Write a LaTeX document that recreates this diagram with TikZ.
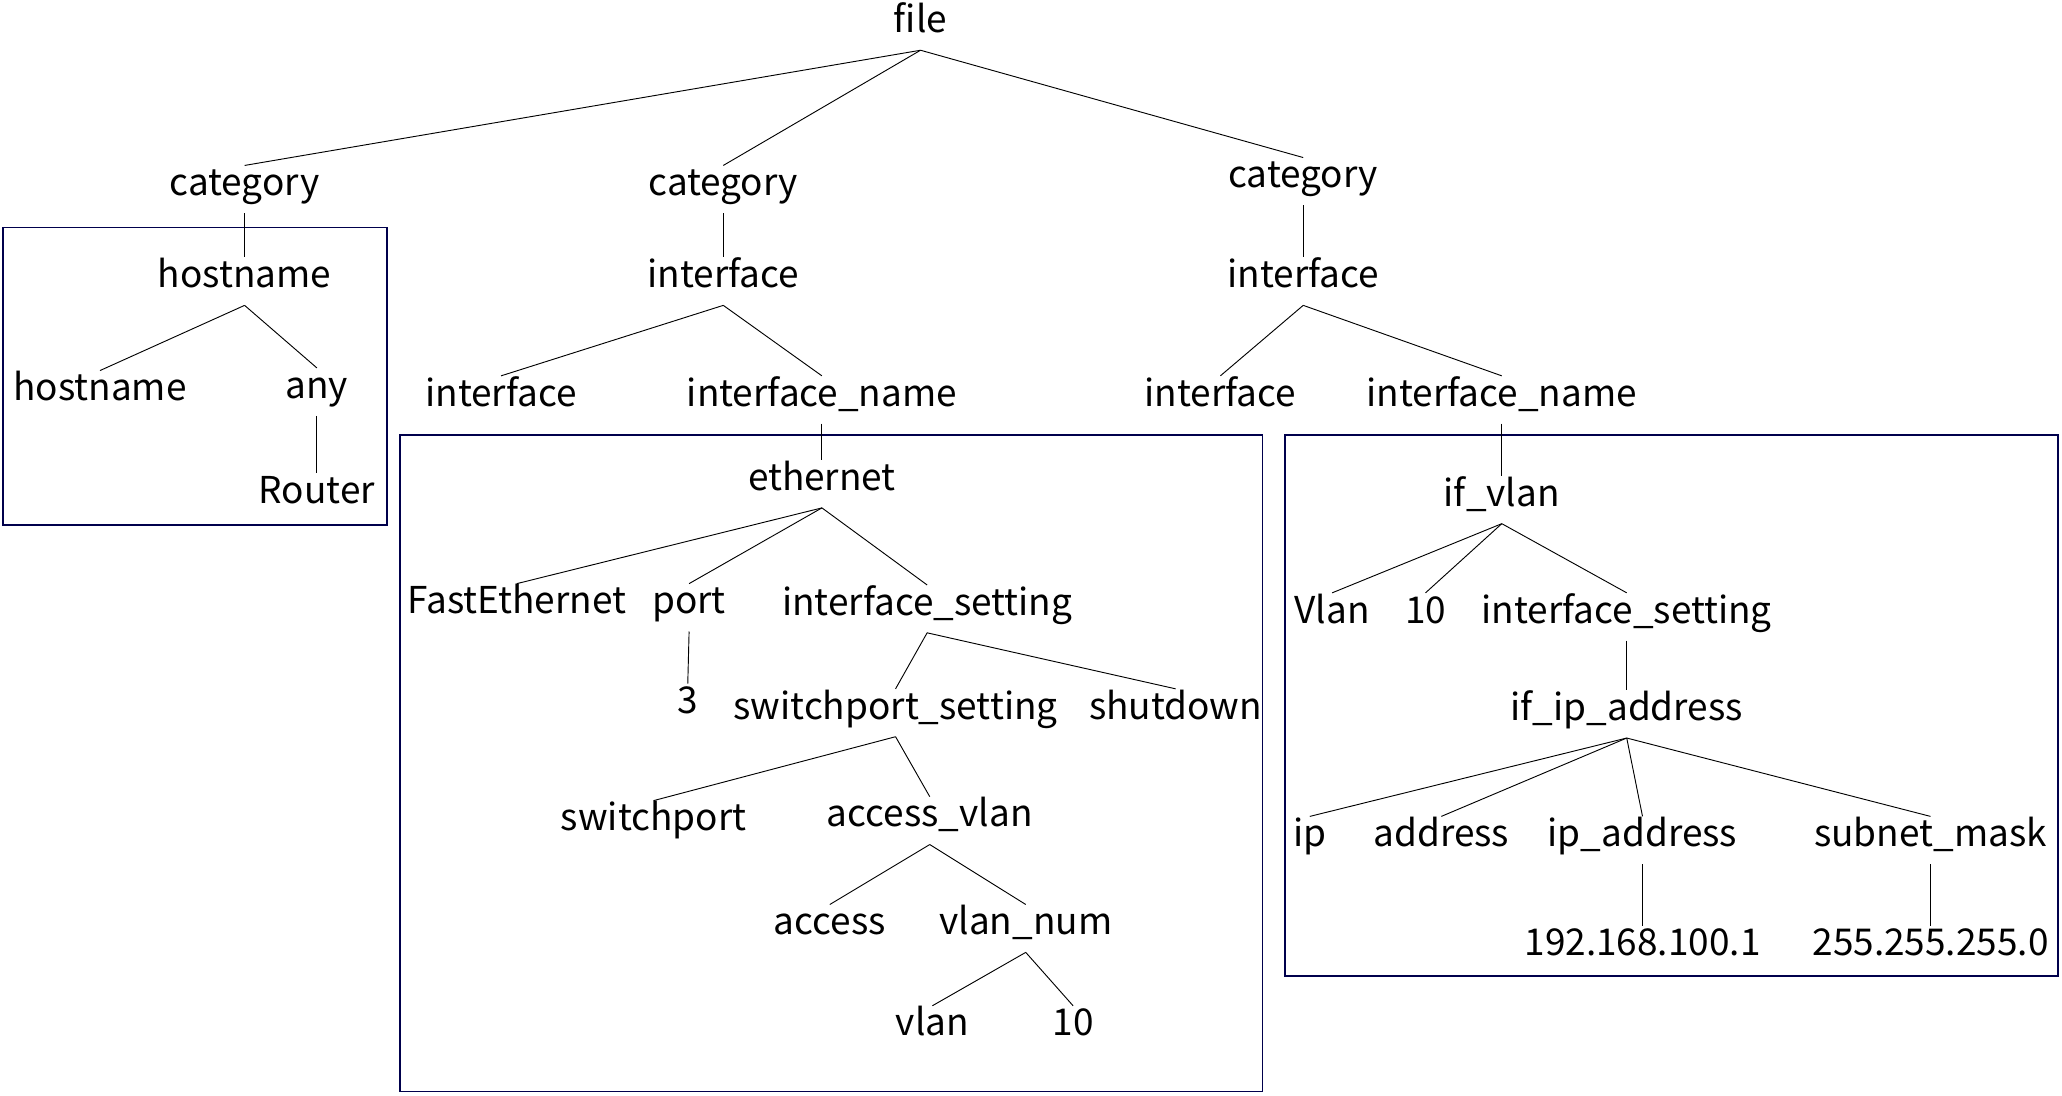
\documentclass[tikz,border=0pt]{standalone}
\usepackage{fontspec}
\setmainfont{Noto Sans CJK JP}
\tikzset{
  tn/.style = {inner sep=5pt, text height=1.45ex, text depth=0.45ex,
    yshift=-0.12cm, font=\fontsize{16}{19}\selectfont},
  grp/.style = {draw=blue!30!black, line width=0.8pt}}
\begin{document}
\begin{tikzpicture}[x=0.02cm, y=-0.02cm]
\useasboundingbox (0,0) rectangle (1568,833);
% groups
\draw[grp] (2,173) rectangle (294,399);
\draw[grp] (304,331) rectangle (960,830);
\draw[grp] (977,331) rectangle (1565,742);
% nodes
\node[tn] (file) at (700,14) {file};
\node[tn] (c1) at (186,138) {category};
\node[tn] (c2) at (550,138) {category};
\node[tn] (c3) at (991,132) {category};
\node[tn] (hn) at (186,208) {hostname};
\node[tn] (hnk) at (76,294) {hostname};
\node[tn] (any) at (241,292) {any};
\node[tn] (rt) at (241,372) {Router};
\node[tn] (if2) at (550,208) {interface};
\node[tn] (if2k) at (381,298) {interface};
\node[tn] (if2n) at (625,298) {interface\_name};
\node[tn] (eth) at (625,362) {ethernet};
\node[tn] (fe) at (393,456) {FastEthernet};
\node[tn] (port) at (524,456) {port};
\node[tn] (is2) at (705,457) {interface\_setting};
\node[tn] (three) at (523,532) {3};
\node[tn] (sws) at (681,536) {switchport\_setting};
\node[tn] (shut) at (894,536) {shutdown};
\node[tn] (sw) at (497,621) {switchport};
\node[tn] (av) at (707,618) {access\_vlan};
\node[tn] (acc) at (631,700) {access};
\node[tn] (vn) at (780,700) {vlan\_num};
\node[tn] (vlan) at (709,777) {vlan};
\node[tn] (ten2) at (816,777) {10};
\node[tn] (if3) at (991,208) {interface};
\node[tn] (if3k) at (928,298) {interface};
\node[tn] (if3n) at (1142,298) {interface\_name};
\node[tn] (ifv) at (1142,374) {if\_vlan};
\node[tn] (vl) at (1013,463) {Vlan};
\node[tn] (ten3) at (1084,463) {10};
\node[tn] (is3) at (1237,463) {interface\_setting};
\node[tn] (ifip) at (1237,537) {if\_ip\_address};
\node[tn] (ip) at (996,633) {ip};
\node[tn] (addr) at (1096,633) {address};
\node[tn] (ipa) at (1249,633) {ip\_address};
\node[tn] (sm) at (1468,633) {subnet\_mask};
\node[tn] (ipv) at (1249,716) {192.168.100.1};
\node[tn] (smv) at (1468,716) {255.255.255.0};
% edges
\foreach \p/\c in {file/c1, file/c2, file/c3, c1/hn, hn/hnk, hn/any, any/rt,
  c2/if2, if2/if2k, if2/if2n, if2n/eth, eth/fe, eth/port, eth/is2, port/three,
  is2/sws, is2/shut, sws/sw, sws/av, av/acc, av/vn, vn/vlan, vn/ten2,
  c3/if3, if3/if3k, if3/if3n, if3n/ifv, ifv/vl, ifv/ten3, ifv/is3, is3/ifip,
  ifip/ip, ifip/addr, ifip/ipa, ifip/sm, ipa/ipv, sm/smv}
  \draw (\p.south) -- (\c.north);
\end{tikzpicture}
\end{document}
